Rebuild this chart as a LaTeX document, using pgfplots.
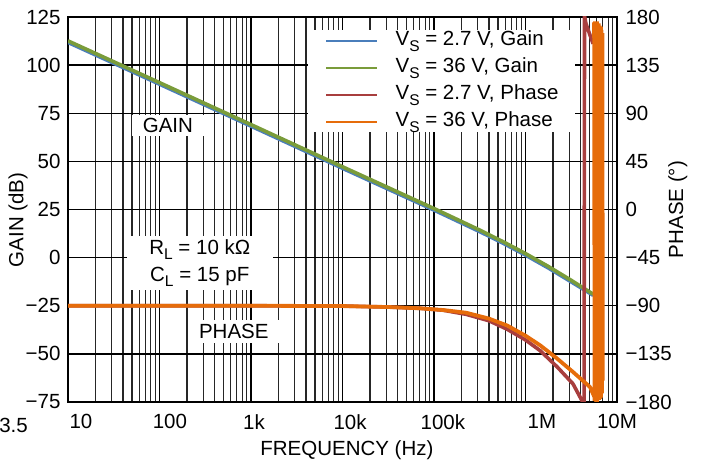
\documentclass[border=0pt]{standalone}
\usepackage{fontspec}
\setmainfont{Liberation Sans}
\usepackage{pgfplots}
\pgfplotsset{compat=1.18}
\definecolor{cblue}{RGB}{74,126,187}
\definecolor{cgreen}{RGB}{122,156,58}
\definecolor{cred}{RGB}{168,62,62}
\definecolor{corange}{RGB}{230,108,10}
\newcommand{\sub}[1]{\raisebox{-0.28em}{\fontsize{15.5}{16}\selectfont #1}}
\begin{document}%
\begin{tikzpicture}[font=\fontsize{20.5}{24}\selectfont]
\begin{axis}[name=ax, scale only axis, width=549pt, height=385pt,
  xmode=log, log basis x=10, xmin=10, xmax=1e7, ymin=-75, ymax=125,
  xtick={10,100,1000,10000,100000,1000000,10000000},
  xticklabels={,,,,,,},
  minor xtick={20,30,40,50,60,70,80,90,
    200,300,400,500,600,700,800,900,
    2000,3000,4000,5000,6000,7000,8000,9000,
    20000,30000,40000,50000,60000,70000,80000,90000,
    200000,300000,400000,500000,600000,700000,800000,900000,
    2000000,3000000,4000000,5000000,6000000,7000000,8000000,9000000},
  extra x ticks={13.87,130,1079,12100,125000,1510000,10000000},
  extra x tick labels={10,100,1k,10k,100k,1M,10M},
  extra x tick style={grid=none},
  xticklabel style={yshift=-9pt},
  ytick={-75,-50,-25,0,25,50,75,100,125},
  yticklabels={−75,−50,−25,0,25,50,75,100,125},
  yticklabel style={xshift=-4pt},
  major tick length=0pt, minor tick length=0pt,
  xmajorgrids=true, xminorgrids=true, ymajorgrids=true,
  major grid style={black, line width=1.3pt},
  minor grid style={black!85, line width=1.2pt},
  axis line style={line width=2.2pt},
  xlabel={FREQUENCY (Hz)},
  xlabel style={at={(axis description cs:0.508,-0.125)}, anchor=center},
  ylabel={GAIN (dB)},
  ylabel style={at={(axis description cs:-0.091,0.473)}, anchor=center},
]
\addplot[cblue, line width=3.6pt] coordinates {
(10,111.8) (100,90.1) (1000,68.3) (10000,46.4) (100000,24.7) (316228,13.5)
(562341,7.6) (1000000,1.3) (1778279,-5.4) (3162278,-12.6) (5495409,-19.6)};
\addplot[cgreen, line width=3.6pt] coordinates {
(10,112.6) (100,90.9) (1000,69.1) (10000,47.2) (100000,25.5) (316228,14.3)
(562341,8.4) (1000000,2.1) (1778279,-4.6) (3162278,-11.8) (5495409,-19.0)};
\node[fill=white, minimum width=72pt, minimum height=21pt, inner sep=0pt]
  at (axis description cs:0.182,0.719) {GAIN};
\node[fill=white, minimum width=146pt, minimum height=54pt, inner sep=0pt,
  align=center, font=\fontsize{20.5}{27}\selectfont]
  at (axis description cs:0.240,0.361) {R\sub{L} = 10 kΩ\\C\sub{L} = 15 pF};
\node[fill=white, minimum width=92pt, minimum height=23pt, inner sep=0pt]
  at (axis description cs:0.302,0.184) {PHASE};
\end{axis}
\begin{axis}[scale only axis, width=549pt, height=385pt,
  at={(ax.south west)}, anchor=south west,
  xmode=log, log basis x=10, xmin=10, xmax=1e7, ymin=-180, ymax=180,
  xtick=\empty,
  ytick={-180,-135,-90,-45,0,45,90,135,180},
  yticklabels={−180,−135,−90,−45,0,45,90,135,180},
  yticklabel pos=right,
  yticklabel style={xshift=5pt},
  major tick length=0pt, minor tick length=0pt,
  axis line style={draw=none},
  ylabel={PHASE (°)},
  ylabel style={at={(axis description cs:1.111,0.5)}, anchor=center, rotate=0},
  legend style={at={(axis description cs:0.437,0.966)}, anchor=north west,
    draw=none, fill=white, inner xsep=17pt, inner ysep=1pt,
    row sep=8pt, column sep=17pt,
    nodes={inner sep=0pt, text height=14.5pt, text depth=4.5pt}},
  legend cell align=left,
  legend image code/.code={\draw[#1, line width=2.5pt] (0pt,0pt) -- (51pt,0pt);},
]
\addlegendimage{cblue}
\addlegendentry{V\sub{S} = 2.7 V, Gain}
\addlegendimage{cgreen}
\addlegendentry{V\sub{S} = 36 V, Gain}
\addplot[cred, line width=3.6pt] coordinates {
(10,-90) (1000,-90) (10000,-90.3) (31623,-91.2) (70795,-92.4) (125893,-94.2)
(223872,-98) (398107,-104) (630957,-112) (1000000,-122) (1445440,-132)
(2208005,-147) (3303695,-163) (4246196,-180.5) (4365158,-181)
(4415704,181) (4570882,174) (5470161,155)};
\addlegendentry{V\sub{S} = 2.7 V, Phase}
\addplot[corange, line width=3.8pt] coordinates {
(10,-90) (1000,-90) (10000,-90.3) (31623,-91.2) (70795,-92.4) (125893,-94)
(223872,-96.5) (398107,-102) (630957,-108.5) (1000000,-118) (1445440,-127)
(2187762,-139) (3311311,-152) (5069907,-166) (6025596,-180.5)
(5623413,175) (5688529,-179) (5754399,176) (5821032,-179) (5888437,175)
(5956621,-178) (6025596,176) (6095369,-179) (6165950,174) (6237348,-178)
(6309573,173) (6382635,-178) (6456542,172) (6531306,-177) (6606934,170)
(6683439,-176) (6760830,168) (6839116,-172) (6918310,165) (6998420,-160)
(6918310,160) (6839116,-170) (6683439,171) (6531306,-175) (6309573,174)
(6095369,-178) (5888437,175)};
\addlegendentry{V\sub{S} = 36 V, Phase}
\end{axis}
\node[anchor=east, inner sep=0pt] at ([xshift=-40pt, yshift=-23pt]ax.south west) {3.5};
\pgfresetboundingbox
\useasboundingbox ([xshift=-68pt,yshift=-65pt]ax.south west) rectangle ([xshift=84pt,yshift=17pt]ax.north east);
\end{tikzpicture}%
\end{document}
